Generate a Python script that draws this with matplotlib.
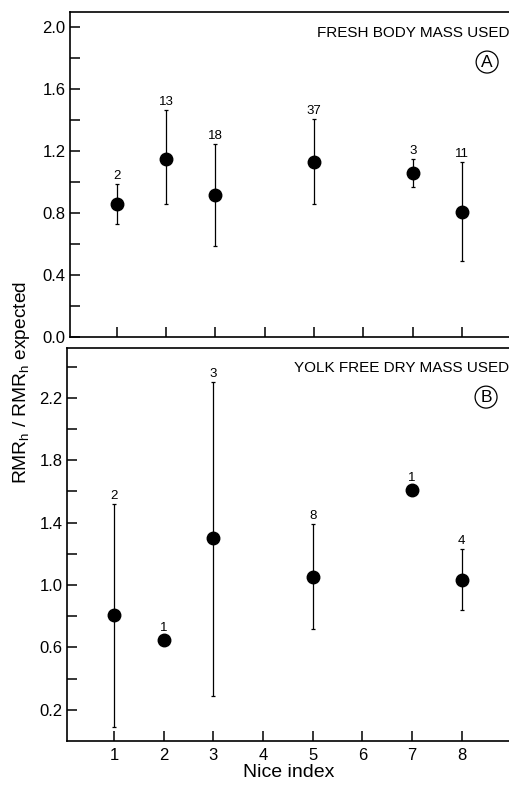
import matplotlib
matplotlib.use("Agg")
import matplotlib.pyplot as plt
import numpy as np

plt.rcParams["font.family"] = ["Liberation Sans", "DejaVu Sans"]

# panel A: fresh body mass
nice_a = [1, 2, 3, 5, 7, 8]
mean_a = [0.86, 1.15, 0.915, 1.13, 1.06, 0.81]
hi_a = [0.99, 1.47, 1.25, 1.41, 1.15, 1.13]
lo_a = [0.73, 0.86, 0.59, 0.86, 0.97, 0.49]
n_a = ["2", "13", "18", "37", "3", "11"]

# panel B: yolk free dry mass (no bar where n = 1)
nice_b = [1, 2, 3, 5, 7, 8]
mean_b = [0.81, 0.65, 1.30, 1.05, 1.61, 1.03]
hi_b = [1.52, 0.65, 2.30, 1.39, 1.61, 1.23]
lo_b = [0.09, 0.65, 0.29, 0.72, 1.61, 0.84]
n_b = ["2", "1", "3", "8", "1", "4"]

x_ticks = [1, 2, 3, 4, 5, 6, 7, 8]


def _panel(ax, x, m, hi, lo, n, title, letter, title_y, letter_xy, ylim, major, minor):
    m, hi, lo = np.array(m), np.array(hi), np.array(lo)
    yerr = np.vstack([m - lo, hi - m])
    has_bar = (hi - lo) > 0
    ax.errorbar(np.array(x)[has_bar], m[has_bar], yerr=yerr[:, has_bar], fmt="none",
                ecolor="black", elinewidth=0.9, capsize=1.5, capthick=0.9)
    ax.plot(x, m, "o", color="black", ms=9, zorder=3)
    # sample sizes sit just above the cap, or above the dot when there is no bar
    for xi, mi, top, bar, lab in zip(x, m, hi, has_bar, n):
        y0, off = (top, 3.5) if bar else (mi, 6.5)
        ax.annotate(lab, (xi, y0), xytext=(0, off), textcoords="offset points",
                    ha="center", va="baseline", fontsize=9.5)
    ax.set_ylim(*ylim)
    ax.set_xlim(0.05, 8.97)
    ax.set_yticks(major)
    ax.set_yticks(minor, minor=True)
    ax.set_yticklabels([f"{v:.1f}" for v in major])
    ax.set_xticks(x_ticks)
    ax.tick_params(direction="in", length=7, width=1.1, labelsize=12, pad=3)
    ax.tick_params(which="minor", direction="in", length=7, width=1.1)
    ax.tick_params(axis="x", top=False, pad=5)
    ax.tick_params(axis="y", right=False, which="both")
    for s in ax.spines.values():
        s.set_linewidth(1.2)
    ax.text(0.998, title_y, title, transform=ax.transAxes, ha="right", va="center",
            fontsize=11)
    ax.text(*letter_xy, letter, transform=ax.transAxes, ha="center", va="center",
            fontsize=12.5,
            bbox=dict(boxstyle="circle,pad=0.2", fc="white", ec="black", lw=0.9))


fig = plt.figure(figsize=(5.1, 7.85), dpi=100)
ax1 = fig.add_axes([0.137, 0.5707, 0.863, 0.414])
ax2 = fig.add_axes([0.131, 0.0561, 0.869, 0.5006])

_panel(ax1, nice_a, mean_a, hi_a, lo_a, n_a, "FRESH BODY MASS USED", "A",
       0.935, (0.948, 0.846),
       (0.0, 2.1), [0.0, 0.4, 0.8, 1.2, 1.6, 2.0], [0.2, 0.6, 1.0, 1.4, 1.8])
_panel(ax2, nice_b, mean_b, hi_b, lo_b, n_b, "YOLK FREE DRY MASS USED", "B",
       0.949, (0.946, 0.875),
       (0.0, 2.52), [0.2, 0.6, 1.0, 1.4, 1.8, 2.2], [0.4, 0.8, 1.2, 1.6, 2.0, 2.4])

ax1.spines["right"].set_visible(False)
ax2.spines["right"].set_bounds(0, 1.01)
ax1.set_xticklabels([])
ax2.set_xlabel("Nice index", fontsize=14, labelpad=1)

fig.text(0.043, 0.513, r"RMR$_\mathregular{h}$ / RMR$_\mathregular{h}$ expected",
         rotation=90, ha="center", va="center", fontsize=13.8)

fig.savefig("out.png", dpi=100)
